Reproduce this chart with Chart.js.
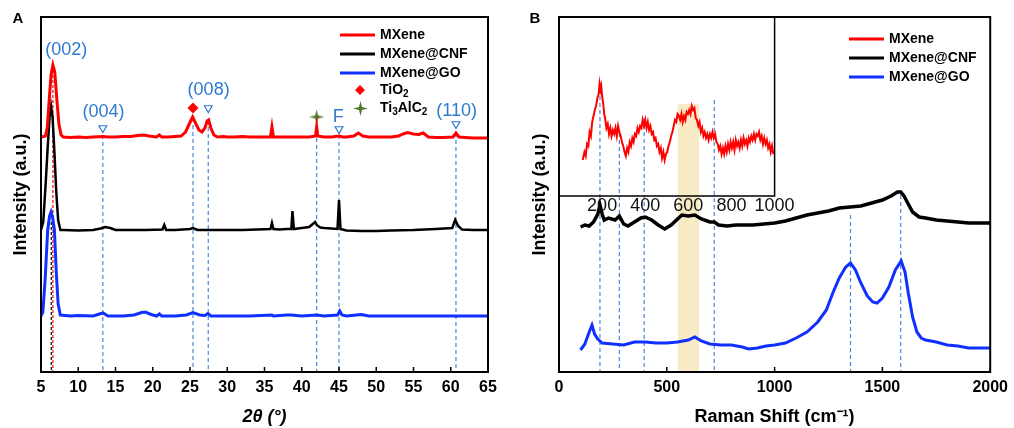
<!DOCTYPE html>
<html><head><meta charset="utf-8">
<script src="https://cdn.jsdelivr.net/npm/chart.js@4/dist/chart.umd.min.js"></script>
<style>
body{margin:0;background:#fff;width:1014px;height:428px;overflow:hidden;position:relative}
.box{position:absolute;top:0;width:507px;height:428px}
canvas{display:block}
</style></head><body>
<div class="box" style="left:0"><canvas id="c1" width="507" height="428"></canvas></div>
<div class="box" style="left:507px"><canvas id="c2" width="507" height="428"></canvas></div>
<script>
// ---------- Panel A : XRD ----------
const xrdTicks = [5,10,15,20,25,30,35,40,45,50,55,60,65];
const theta_MXene = [5.0,5.6,5.85,6.1,6.35,6.6,6.85,7.1,7.4,7.7,8.0,9,10,11,12,13.3,14,15,16,17,18,18.8,19.5,20.5,20.9,21.2,22,23,23.8,24.4,24.9,25.35,25.8,26.2,26.6,27.0,27.3,27.5,27.8,28.2,28.7,29.5,30,31,32,33,34,35,35.8,36.0,36.2,37,38,39,40,41,41.85,42.0,42.15,43,44,45,45.5,46,47,47.6,48.2,49,50,51,52,53,53.6,54.2,55,55.7,56.3,57,58,59,60.3,60.7,61.1,62,63,64,65];
const int_MXene = [235,236,245,272,297,307,300,275,248,237,235,234.5,235,234.5,235,235.5,235,235,235.5,235.5,236.5,237,236,235,237,235,235,235.5,236,240,248,255,248,242,240,244,251,252,244,237,235,235.5,235,235,235.5,235,235,235,235,245,235,235,235,235,235,235,236,245,236,235,235,236,235,235,236,239,236,235,235,235,235,236,238,239.5,238,237.5,239,235,234.5,234.5,235,239,235,234.5,234,234,234];
const theta_CNF = [5.0,5.3,5.6,5.9,6.15,6.35,6.55,6.8,7.05,7.3,7.6,8,10,12,13.0,13.6,14.3,15,17,19,21.3,21.55,21.8,23,25,25.4,26,28,30,32,34,35.8,36.0,36.2,37,38.0,38.6,38.75,38.95,40,41,41.8,42.0,42.5,43,44,44.8,45.0,45.2,46,48,50,52,55,58,60.2,60.6,61.0,61.5,63,65];
const int_CNF = [142,150,185,225,255,266,255,220,180,152,142,142,141.5,142,143.5,145,144,142,142,142,142.5,147,142,142,143,144,142,142,142,142,142.5,143,149,143,142.5,143,143,161,143,144,145,150,147,144.5,144,143.5,143,172,143,141.5,141,141,141.5,142,143,144,152,146,142.5,142,142];
const theta_GO = [5.0,5.25,5.55,5.9,6.15,6.35,6.55,6.8,7.05,7.3,7.6,9,10,12,13.3,14,16,17.5,18.5,19,19.8,20.5,20.9,21.2,23,24.5,25.4,26.3,27.0,27.4,27.8,30,33,36,36.2,38,38.6,40,42,43,44.8,45.1,45.4,46,48,49,52,56,60,65];
const int_GO = [56,60,92,142,156,160,155,142,100,68,57,56,56.5,56,59,56,56,57,59.5,60,57.5,56,58,56,56,57,59.5,57,56.5,58.5,56,56,56,57,56,57,57,56,57,56,57,61,57,56,57.5,56,56,56,56,56];
// reference lines (position, top intensity)
const xrdRefPos = [13.3,25.4,27.45,42.0,45.0,60.7];
const xrdRefTop = [237,247,252,234,237,239];
const hklPos = [13.3,27.45,45.0,60.7];
const hklY = [244,264,243,248];
const tio2Pos = [25.4]; const tio2Y = [264];
const tacPos = [42.0]; const tacY = [255];
const xrdLabels = ['(002)','(004)','(008)','F','(110)'];
const xrdLabelX = [8.4,13.4,27.5,44.9,60.8];
const xrdLabelY = [322,260,282,255,261];

// ---------- Panel B : Raman ----------
const ramanTicks = [0,500,1000,1500,2000];
const insetTicks = [200,400,600,800,1000];
const shift_MXene = [110,118,124,130,136,142,148,154,160,166,172,178,184,188,192,196,200,205,210,215,220,226,232,238,244,250,256,262,268,274,280,286,292,298,304,310,316,322,328,334,340,346,352,358,364,370,376,382,388,394,400,406,412,418,424,430,436,442,448,454,460,466,472,478,484,490,496,502,508,514,520,526,532,538,544,550,556,562,568,574,580,586,592,598,604,610,616,622,628,634,640,646,652,658,664,670,676,682,688,694,700,706,712,718,724,730,736,742,748,754,760,766,772,778,784,790,796,802,808,814,820,826,832,838,844,850,856,862,868,874,880,886,892,898,904,910,916,922,928,934,940,946,952,958,964,970,976,982,988,994];
const ram_MXene = [212,220,216,228,226,240,236,250,256,262,266,274,278,288,282,286,276,268,258,252,244,248,238,244,236,242,238,244,236,246,240,236,230,226,220,216,224,220,230,226,234,230,238,236,244,240,246,244,252,246,252,244,250,242,246,238,240,232,234,226,228,220,224,214,220,212,218,220,226,230,236,240,246,252,250,258,256,252,258,250,256,252,260,258,262,258,266,262,264,254,252,246,250,240,244,236,240,234,238,232,238,234,240,234,238,230,228,222,226,218,224,218,226,220,228,222,230,224,230,222,232,226,230,224,232,226,234,228,232,226,234,230,236,232,238,232,238,236,240,232,236,228,234,228,232,224,228,220,226,218];
const shift_CNF = [100,120,140,160,180,190,200,210,230,260,280,300,320,350,380,400,430,460,490,520,550,570,600,630,660,700,720,740,780,820,860,900,950,1000,1050,1100,1150,1200,1250,1300,1350,1400,1450,1500,1540,1570,1585,1600,1620,1640,1670,1700,1750,1800,1850,1900,1950,2000];
const ram_CNF = [145,147,146,150,158,167,158,152,154,152,156,148,146,150,154,155,152,147,143,147,153,157,156,157,153,150,150,147,146,147,147,147,148,149,151,154,157,159,161,164,165,166,169,172,176,180,180,176,168,160,155,154,152,151,150,149,149,149];
const shift_GO = [100,120,140,153,165,180,200,250,300,350,400,450,500,550,600,630,660,700,750,800,850,880,920,960,1000,1050,1100,1150,1200,1240,1270,1300,1330,1352,1375,1400,1430,1455,1475,1500,1530,1560,1587,1605,1620,1640,1660,1680,1700,1750,1800,1850,1900,1950,2000];
const ram_GO = [22,28,40,47,38,33,29,28,27,30,30,29,29,30,32,35,31,28,27,27,25,23,24,26,27,29,34,40,50,62,79,94,105,109,102,89,76,70,69,74,85,102,111,100,79,55,40,34,32,30,27,26,24,24,24];
const ramRefPos = [190,280,395,720,1352,1585];
const ramRefTop = [290,239,254,272,157,177];
const bandRange = [550,650]; const bandTop = 268;

// ---------- helpers ----------
const FONT = '"Liberation Sans", Arial, Helvetica, sans-serif';
const RED='#ff0000', BLACK='#000000', BLUE='#1030ff', DASH='#4d84d8', HKL='#2e7bcf', GREEN='#4e7b2c';
const pts = (xs, ys) => xs.map((x,i)=>({x:x, y:ys[i]}));
function vline(x, top, color, dash, w){
  return {data:[{x:x,y:top},{x:x,y:0}], borderColor:color, borderWidth:w||1.2, borderDash:dash||[4,3], pointRadius:0, fill:false};
}
function starImg(size){
  const c=document.createElement('canvas'); c.width=size; c.height=size;
  const g=c.getContext('2d'); g.fillStyle=GREEN; g.beginPath();
  const cx=size/2, cy=size/2, R=size/2, r=size*0.14;
  for(let i=0;i<8;i++){const a=i*Math.PI/4-Math.PI/2; const rad=i%2?r:R; g.lineTo(cx+rad*Math.cos(a), cy+rad*Math.sin(a));}
  g.closePath(); g.fill(); return c;
}
const STAR = starImg(15);

function framePlugin(tickVals){
  return {id:'frame', afterDraw(chart){
    const {ctx, chartArea:a, scales:{x}} = chart;
    ctx.save(); ctx.strokeStyle='#000'; ctx.lineWidth=2;
    ctx.strokeRect(a.left, a.top, a.right-a.left, a.bottom-a.top);
    ctx.lineWidth=1.5; ctx.beginPath();
    tickVals.forEach(v=>{const px=x.getPixelForValue(v); ctx.moveTo(px,a.bottom); ctx.lineTo(px,a.bottom-5);});
    ctx.stroke(); ctx.restore();
  }};
}
function drawLegendLines(ctx, x0, rows){
  ctx.save(); ctx.font='bold 14px '+FONT; ctx.textBaseline='middle'; ctx.fillStyle='#000';
  rows.forEach(r=>{
    ctx.strokeStyle=r.c; ctx.lineWidth=3; ctx.beginPath(); ctx.moveTo(x0,r.y); ctx.lineTo(x0+35,r.y); ctx.stroke();
    ctx.fillText(r.t, x0+40, r.y);
  });
  ctx.restore();
}
function subText(ctx, parts, x, y){
  let cx=x;
  parts.forEach(p=>{
    ctx.font = p.s ? 'bold 10px '+FONT : 'bold 14px '+FONT;
    ctx.fillText(p.t, cx, y + (p.s?4:0)); cx += ctx.measureText(p.t).width;
  });
}

const commonX = (min,max,title,italic,vals) => ({
  type:'linear', min:min, max:max,
  afterBuildTicks(s){ s.ticks = vals.map(v=>({value:v})); },
  ticks:{font:{family:FONT,size:16,weight:'bold'}, color:'#000', padding:6, autoSkip:false, maxRotation:0, callback:(v)=>String(v)},
  grid:{display:false, drawTicks:false}, border:{display:false},
  title:{display:true, text:title, color:'#000', font:{family:FONT,size:18,weight:'bold',style:italic?'italic':'normal'}, padding:{top:0,bottom:0}},
  afterFit(s){ s.height=56; }
});
const commonY = (max, w, padTop) => ({
  type:'linear', min:0, max:max,
  ticks:{display:false}, grid:{display:false, drawTicks:false}, border:{display:false},
  title:{display:true, text:'Intensity (a.u.)', color:'#000', font:{family:FONT,size:18,weight:'bold'}, padding:{top:padTop,bottom:0}},
  afterFit(s){ s.width=w; }
});

// ---------- Chart A ----------
const annA = {id:'annA', afterDraw(chart){
  const {ctx, scales:{x,y}} = chart;
  ctx.save();
  ctx.fillStyle='#000'; ctx.font='bold 15px '+FONT; ctx.textAlign='center'; ctx.textBaseline='middle';
  ctx.fillText('A', 18, 19);
  ctx.fillStyle=HKL; ctx.font='18px '+FONT;
  xrdLabels.forEach((t,i)=>ctx.fillText(t, x.getPixelForValue(xrdLabelX[i]), y.getPixelForValue(xrdLabelY[i])));
  ctx.textAlign='left';
  drawLegendLines(ctx, 340, [{t:'MXene',c:RED,y:35},{t:'MXene@CNF',c:BLACK,y:54},{t:'MXene@GO',c:BLUE,y:73}]);
  ctx.fillStyle=RED; ctx.beginPath(); ctx.moveTo(360,85); ctx.lineTo(365,90); ctx.lineTo(360,95); ctx.lineTo(355,90); ctx.closePath(); ctx.fill();
  ctx.drawImage(STAR, 353, 101);
  ctx.fillStyle='#000'; ctx.textBaseline='middle';
  subText(ctx, [{t:'TiO'},{t:'2',s:1}], 380, 90);
  subText(ctx, [{t:'Ti'},{t:'3',s:1},{t:'AlC'},{t:'2',s:1}], 380, 108);
  ctx.restore();
}};

new Chart(document.getElementById('c1'), {
  type:'line',
  data:{datasets:[
    {label:'MXene', data:pts(theta_MXene,int_MXene), borderColor:RED, borderWidth:3, pointRadius:0, tension:0},
    {label:'MXene@CNF', data:pts(theta_CNF,int_CNF), borderColor:BLACK, borderWidth:2.5, pointRadius:0, tension:0},
    {label:'MXene@GO', data:pts(theta_GO,int_GO), borderColor:BLUE, borderWidth:3, pointRadius:0, tension:0},
    vline(6.6, 307, RED, [3,2], 1.2),
    {data:[{x:6.38,y:262},{x:6.38,y:150}], borderColor:'#ffffff', borderWidth:1.2, borderDash:[3,2], pointRadius:0},
    vline(6.38, 150, BLACK, [3,2], 1.2),
    ...xrdRefPos.map((p,i)=>vline(p, xrdRefTop[i], DASH)),
    {data:pts(hklPos,hklY), showLine:false, pointStyle:'triangle', pointRotation:180, pointRadius:4.5, pointBorderColor:HKL, pointBackgroundColor:'#fff', pointBorderWidth:1.2},
    {data:pts(tio2Pos,tio2Y), showLine:false, pointStyle:'rectRot', pointRadius:5.5, pointBorderColor:RED, pointBackgroundColor:RED, pointBorderWidth:0},
    {data:pts(tacPos,tacY), showLine:false, pointStyle:STAR, pointRadius:7}
  ]},
  options:{
    responsive:false, animation:false, events:[],
    plugins:{legend:{display:false}, tooltip:{enabled:false}},
    layout:{padding:{top:17,right:19,left:0,bottom:0}},
    scales:{ x: commonX(5,65,'2θ (°)',true,xrdTicks), y: commonY(355,41,10) }
  },
  plugins:[framePlugin(xrdTicks), annA]
});

// ---------- Chart B ----------
const insetY = 176; // intensity value at inset bottom edge
const annB = {id:'annB', afterDraw(chart){
  const {ctx, chartArea:a, scales:{x,y}} = chart;
  ctx.save();
  const xr = x.getPixelForValue(1000), yb = y.getPixelForValue(insetY);
  ctx.strokeStyle='#000'; ctx.lineWidth=1.5; ctx.beginPath();
  ctx.moveTo(xr, a.top); ctx.lineTo(xr, yb); ctx.lineTo(a.left, yb); ctx.stroke();
  ctx.fillStyle='#111'; ctx.font='18px '+FONT; ctx.textAlign='center'; ctx.textBaseline='middle';
  insetTicks.forEach(v=>ctx.fillText(String(v), x.getPixelForValue(v), yb+10));
  ctx.fillStyle='#000'; ctx.font='bold 15px '+FONT;
  ctx.fillText('B', 28, 19);
  ctx.textAlign='left';
  drawLegendLines(ctx, 342, [{t:'MXene',c:RED,y:39},{t:'MXene@CNF',c:BLACK,y:58},{t:'MXene@GO',c:BLUE,y:77}]);
  ctx.restore();
}};

new Chart(document.getElementById('c2'), {
  type:'line',
  data:{datasets:[
    {label:'MXene', data:pts(shift_MXene,ram_MXene), borderColor:RED, borderWidth:2, pointRadius:0, tension:0},
    {label:'MXene@CNF', data:pts(shift_CNF,ram_CNF), borderColor:BLACK, borderWidth:3.5, pointRadius:0, tension:0},
    {label:'MXene@GO', data:pts(shift_GO,ram_GO), borderColor:BLUE, borderWidth:3, pointRadius:0, tension:0},
    ...ramRefPos.map((p,i)=>vline(p, ramRefTop[i], DASH)),
    {data:[{x:bandRange[0],y:bandTop},{x:bandRange[1],y:bandTop}], borderWidth:0, borderColor:'rgba(0,0,0,0)', backgroundColor:'#f7ebc6', fill:'origin', pointRadius:0, order:10}
  ]},
  options:{
    responsive:false, animation:false, events:[],
    plugins:{legend:{display:false}, tooltip:{enabled:false}},
    layout:{padding:{top:17,right:23,left:0,bottom:0}},
    scales:{ x: commonX(0,2000,'Raman Shift (cm⁻¹)',false,ramanTicks), y: commonY(355,52,22) }
  },
  plugins:[framePlugin(ramanTicks), annB]
});
</script>
</body></html>
